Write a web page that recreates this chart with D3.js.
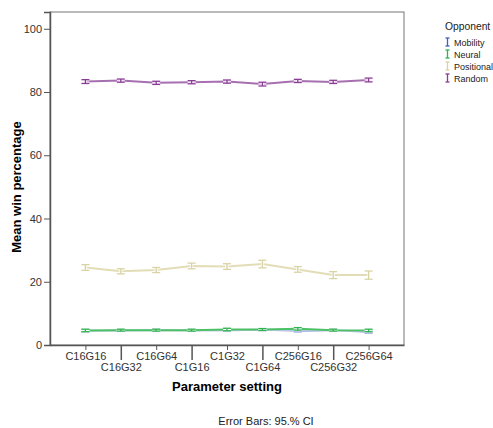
<!DOCTYPE html>
<html><head><meta charset="utf-8">
<script src="https://cdn.jsdelivr.net/npm/d3@7"></script>
<style>body{margin:0;background:#fff;} svg{display:block;font-family:"Liberation Sans",Arial,sans-serif;}</style>
</head><body>
<svg id="chart" width="493" height="428"></svg>
<script>
const categories = ["C16G16","C16G32","C16G64","C1G16","C1G32","C1G64","C256G16","C256G32","C256G64"];
const seriesNames = ["Mobility","Neural","Positional","Random"];
const mobility   = [4.5, 4.6, 4.7, 4.6, 4.7, 4.8, 4.6, 4.7, 4.2];
const neural     = [4.6, 4.7, 4.7, 4.7, 4.9, 4.9, 5.1, 4.7, 4.6];
const positional = [24.5, 23.3, 23.7, 25.0, 24.8, 25.6, 23.9, 22.1, 22.1];
const random     = [83.3, 83.6, 82.9, 83.1, 83.3, 82.5, 83.5, 83.2, 83.8];
const mobilityErr   = [0.4, 0.3, 0.3, 0.3, 0.4, 0.3, 0.4, 0.3, 0.4];
const neuralErr     = [0.4, 0.3, 0.3, 0.3, 0.4, 0.3, 0.4, 0.3, 0.4];
const positionalErr = [0.9, 0.8, 0.8, 0.9, 0.9, 1.2, 0.9, 1.1, 1.3];
const randomErr     = [0.6, 0.5, 0.5, 0.5, 0.5, 0.6, 0.5, 0.5, 0.6];
const yTicks = [0, 20, 40, 60, 80, 100];
const colors = ["#3f5fbf", "#2fb34c", "#d9d3a3", "#8b3b97"];
const lineColors = ["#5b74c8", "#4cc064", "#e2ddb6", "#a66fb0"];

const series = [
  {name: seriesNames[0], values: mobility, err: mobilityErr},
  {name: seriesNames[1], values: neural, err: neuralErr},
  {name: seriesNames[2], values: positional, err: positionalErr},
  {name: seriesNames[3], values: random, err: randomErr}
];

const svg = d3.select("#chart");
const L = 50, R = 404, T = 12, B = 345;
const x = d3.scalePoint().domain(categories).range([L, R]).padding(1);
const y = d3.scaleLinear().domain([0, 105.3]).range([B, T]);
const axisCol = "#555";

// frame
svg.append("rect").attr("x", L).attr("y", T).attr("width", R - L).attr("height", B - T)
  .attr("fill", "none").attr("stroke", "#777").attr("stroke-width", 1);

// y axis
const ya = svg.append("g").attr("transform", `translate(${L},0)`)
  .call(d3.axisLeft(y).tickValues(yTicks).tickSize(6).tickPadding(2));
ya.select(".domain").attr("stroke", axisCol).attr("stroke-width", 1.5);
ya.selectAll(".tick line").attr("stroke", axisCol);
ya.selectAll(".tick text").attr("fill", "#333").style("font-size", "11px").style("font-family", "Liberation Sans, Arial, sans-serif");

// x axis
const xa = svg.append("g").attr("transform", `translate(0,${B})`)
  .call(d3.axisBottom(x).tickSize(6).tickPadding(2).tickSizeOuter(0));
xa.select(".domain").attr("stroke", axisCol).attr("stroke-width", 1.5);
xa.selectAll(".tick line").attr("stroke", axisCol).attr("stroke-width", (d,i) => i % 2 ? 1.5 : 1)
  .attr("y2", (d, i) => i % 2 ? 15 : 5);
xa.selectAll(".tick text").attr("fill", "#333").style("font-size", "11px")
  .style("font-family", "Liberation Sans, Arial, sans-serif")
  .attr("y", (d, i) => i % 2 ? 18 : 7);

// lines
const line = d3.line().x((d, i) => x(categories[i])).y(d => y(d));
series.forEach((s, si) => {
  svg.append("path").datum(s.values).attr("d", line)
    .attr("fill", "none").attr("stroke", "#fff").attr("stroke-opacity", 0.6).attr("stroke-width", 4);
  svg.append("path").datum(s.values).attr("d", line)
    .attr("fill", "none").attr("stroke", lineColors[si]).attr("stroke-width", 2);
});

// error bars
series.forEach((s, si) => {
  const g = svg.append("g");
  s.values.forEach((v, i) => {
    const cx = x(categories[i]);
    const y1 = y(v + s.err[i]), y2 = y(v - s.err[i]);
    const cap = 4;
    [["#fff", 3.5, 0.7], [colors[si], 1.3, 1]].forEach(([c, w, o]) => {
      g.append("line").attr("x1", cx).attr("x2", cx).attr("y1", y1).attr("y2", y2)
        .attr("stroke", c).attr("stroke-width", w).attr("stroke-opacity", o);
      g.append("line").attr("x1", cx - cap).attr("x2", cx + cap).attr("y1", y1).attr("y2", y1)
        .attr("stroke", c).attr("stroke-width", w).attr("stroke-opacity", o);
      g.append("line").attr("x1", cx - cap).attr("x2", cx + cap).attr("y1", y2).attr("y2", y2)
        .attr("stroke", c).attr("stroke-width", w).attr("stroke-opacity", o);
    });
  });
});

// axis titles
svg.append("text").attr("x", 227).attr("y", 391).attr("text-anchor", "middle")
  .style("font-size", "13px").style("font-weight", "bold").attr("fill", "#000").text("Parameter setting");
svg.append("text").attr("transform", "translate(21,187) rotate(-90)").attr("text-anchor", "middle")
  .style("font-size", "13px").style("font-weight", "bold").attr("fill", "#000").text("Mean win percentage");

// footnote
svg.append("text").attr("x", 266).attr("y", 425).attr("text-anchor", "middle")
  .style("font-size", "11px").attr("fill", "#222").text("Error Bars: 95.% CI");

// legend
svg.append("text").attr("x", 445).attr("y", 29.5).style("font-size", "10.3px").attr("fill", "#222").text("Opponent");
series.forEach((s, si) => {
  const ly = 42 + si * 12;
  const g = svg.append("g");
  g.append("line").attr("x1", 447.5).attr("x2", 447.5).attr("y1", ly - 4).attr("y2", ly + 4).attr("stroke", colors[si]).attr("stroke-width", 1.3);
  g.append("line").attr("x1", 445.5).attr("x2", 449.5).attr("y1", ly - 4).attr("y2", ly - 4).attr("stroke", colors[si]).attr("stroke-width", 1.3);
  g.append("line").attr("x1", 445.5).attr("x2", 449.5).attr("y1", ly + 4).attr("y2", ly + 4).attr("stroke", colors[si]).attr("stroke-width", 1.3);
  g.append("text").attr("x", 454).attr("y", ly + 3.5).style("font-size", "9px").attr("fill", "#222").text(s.name);
});
</script>
</body></html>
